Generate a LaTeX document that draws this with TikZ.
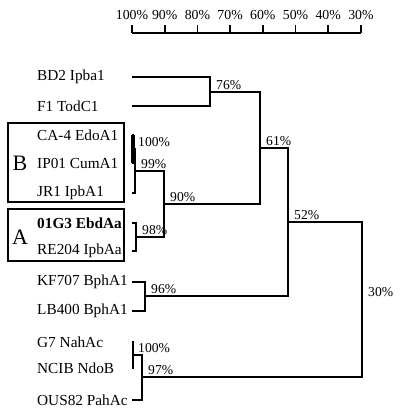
\documentclass[tikz,border=0pt]{standalone}
\usepackage{fontspec}
\setmainfont{Liberation Serif}
\usetikzlibrary{calc, positioning}

\begin{document}
\begin{tikzpicture}[x=1pt, y=-1pt,
        branch/.style={line width=1.8pt},
        leaf/.style={anchor=west, inner sep=0pt, font=\fontsize{15.3}{18}\selectfont},
        pct/.style={anchor=south west, inner sep=1pt, xshift=5pt, yshift=1.5pt, font=\fontsize{13.6}{16}\selectfont},
        grp/.style={inner sep=0pt, font=\fontsize{22}{26}\selectfont}]
        \useasboundingbox (0,0) rectangle (400,412);

        % Scale on top
        \draw[branch] (132,33) -- (361,33);
        \foreach \p [count=\i from 0] in {100,90,...,30} {
            \coordinate (t\p) at ({132+32.7*\i},33);
            \draw[branch] (t\p) -- ++(0,-8);
            \node[font=\fontsize{13.8}{16}\selectfont, inner sep=0pt] (s\p) at ($(t\p)+(0,-18)$) {\p\%};
        }

        % Leaves
        \node[leaf] (bd2) at (37,77) {BD2 Ipba1};
        \node[leaf] (f1) at (37,106) {F1 TodC1};
        \node[leaf] (ca) at (37,135) {CA-4 EdoA1};
        \node[leaf] (ip) at (37,163) {IP01 CumA1};
        \node[leaf] (jr) at (37,193) {JR1 IpbA1};
        \node[leaf] (eb) at (37,223) {\textbf{01G3 EbdAa}};
        \node[leaf] (re) at (37,251) {RE204 IpbAa};
        \node[leaf] (kf) at (37,282) {KF707 BphA1};
        \node[leaf] (lb) at (37,311) {LB400 BphA1};
        \node[leaf] (g7) at (37,342) {G7 NahAc};
        \node[leaf] (nc) at (37,368) {NCIB NdoB};
        \node[leaf] (ou) at (37,400) {OUS82 PahAc};
        \foreach \l in {bd2,f1,ca,ip,jr,eb,re,kf,lb,g7,nc,ou}
            \coordinate (\l e) at (\l.west -| t100);

        % Groups
        \draw[line width=1.2pt] (8,123) rectangle (124,202);
        \draw[line width=1.2pt] (8,209) rectangle (124,261);
        \node[grp] (grpB) at (20,163) {B};
        \node[grp] (grpA) at (20,237) {A};

        % Junctions
        \coordinate (j76) at (210,92);
        \coordinate (j100a) at (133,149);
        \coordinate (j99) at (135,171);
        \coordinate (j98) at (136,237);
        \coordinate (j90) at (164,204);
        \coordinate (j61) at (260,148);
        \coordinate (j96) at (145,296);
        \coordinate (j52) at (288,222);
        \coordinate (j100b) at (133,355);
        \coordinate (j97) at (142,377);
        \coordinate (j30) at (362,300);

        % Branches
        \draw[branch] (bd2e) -| (j76) |- (f1e);
        \draw[branch] (cae) -| (j100a) |- (ipe);
        \draw[line width=3.5pt] (j100a |- cae) -- (j100a |- ipe);
        \draw[branch] (j100a) -| (j99) |- (jre);
        \draw[branch] (ebe) -| (j98) |- (ree);
        \draw[branch] (j99) -| (j90) |- (j98);
        \draw[branch] (j76) -| (j61) |- (j90);
        \draw[branch] (kfe) -| (j96) |- (lbe);
        \draw[branch] (j61) -| (j52) |- (j96);
        \draw[branch] (g7e) -| (j100b) |- (nce);
        \draw[branch] (j100b) -| (j97) |- (oue);
        \draw[branch] (j52) -| (j30) |- (j97);

        % Labels
        \node[pct] (p76) at (j76) {76\%};
        \node[pct, xshift=-1pt] (p100a) at (j100a) {100\%};
        \node[pct] (p99) at (j99) {99\%};
        \node[pct] (p98) at (j98) {98\%};
        \node[pct] (p90) at (j90) {90\%};
        \node[pct] (p61) at (j61) {61\%};
        \node[pct] (p96) at (j96) {96\%};
        \node[pct] (p52) at (j52) {52\%};
        \node[pct, xshift=-1pt] (p100b) at (j100b) {100\%};
        \node[pct] (p97) at (j97) {97\%};
        \node[pct, anchor=west, yshift=6pt] (p30) at (j30) {30\%};
\end{tikzpicture}
\end{document}
